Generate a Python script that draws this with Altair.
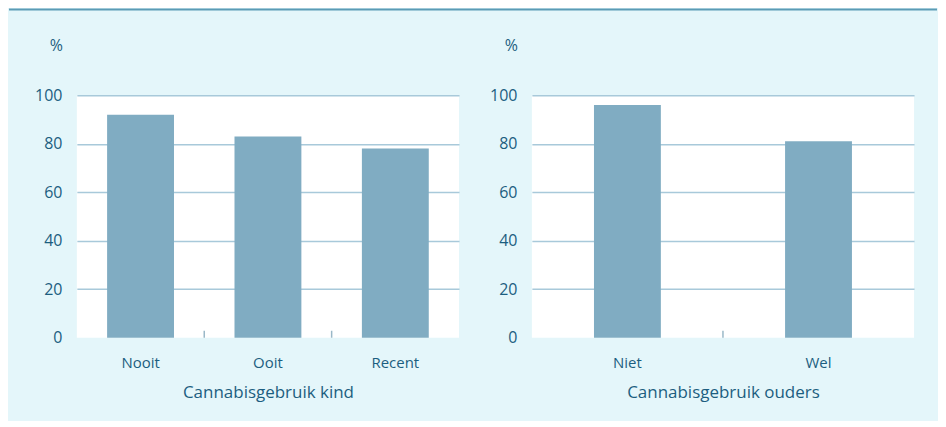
import altair as alt
import pandas as pd

# Data
kind_cats = ["Nooit", "Ooit", "Recent"]
kind_vals = [92, 83, 78]
ouder_cats = ["Niet", "Wel"]
ouder_vals = [96, 81]

titles = ["Cannabisgebruik kind", "Cannabisgebruik ouders"]

BG = "#e4f6fa"
BAR = "#80acc2"
GRID = "#a8c9da"
TEXT = "#1c5e80"
LINE = "#5b9bb5"
TICK = "#9ab8c8"

W = 383
H = 243


def panel(cats, vals, title, pi, top_line=False):
    step = W / len(cats)
    df = pd.DataFrame({"cat": cats, "val": vals})
    xenc = alt.X(
        "cat:N",
        sort=cats,
        scale=alt.Scale(paddingInner=pi, paddingOuter=pi / 2),
        axis=alt.Axis(
            title=title,
            labelAngle=0,
            ticks=False,
            domain=False,
            labelFontSize=15,
            labelPadding=18,
            labelColor=TEXT,
            titleFontSize=17,
            titleFontWeight="normal",
            titleColor=TEXT,
            titlePadding=14,
        ),
    )
    yenc = alt.Y(
        "val:Q",
        scale=alt.Scale(domain=[0, 100]),
        axis=alt.Axis(
            title="%",
            values=[0, 20, 40, 60, 80, 100],
            ticks=False,
            domain=False,
            labelFontSize=16,
            labelPadding=15,
            labelColor=TEXT,
            gridColor={"condition": {"test": "datum.value === 0", "value": "transparent"}, "value": GRID},
            gridWidth=1.5,
            titleAngle=0,
            titleX=-21,
            titleY=-50,
            titleAlign="center",
            titleBaseline="middle",
            titleFontSize=16,
            titleFontWeight="normal",
            titleColor=TEXT,
        ),
    )
    bars = alt.Chart(df).mark_bar(color=BAR).encode(x=xenc, y=yenc)
    ticks = (
        alt.Chart(pd.DataFrame({"cat": cats[1:]}))
        .mark_rule(color=TICK, strokeWidth=1.5, xOffset=-step / 2)
        .encode(x=alt.X("cat:N", sort=cats), y=alt.value(H - 7), y2=alt.value(H))
    )
    layers = [bars, ticks]
    if top_line:
        line = (
            alt.Chart(pd.DataFrame({"a": [0]}))
            .mark_rule(color=LINE, strokeWidth=2)
            .encode(x=alt.value(-68), x2=alt.value(862), y=alt.value(-86))
        )
        layers.append(line)
    return alt.layer(*layers).properties(width=W, height=H)


left = panel(kind_cats, kind_vals, titles[0], 0.475, top_line=True)
right = panel(ouder_cats, ouder_vals, titles[1], 0.65)

chart = (
    alt.hconcat(left, right, spacing=73, bounds="flush")
    .properties(background=BG, padding={"left": 0, "top": 0, "right": 0, "bottom": 20})
    .configure(font="Open Sans")
    .configure_view(fill="white", strokeWidth=0)
)

chart.save("out.html", embed_options={"renderer": "svg", "actions": False})
